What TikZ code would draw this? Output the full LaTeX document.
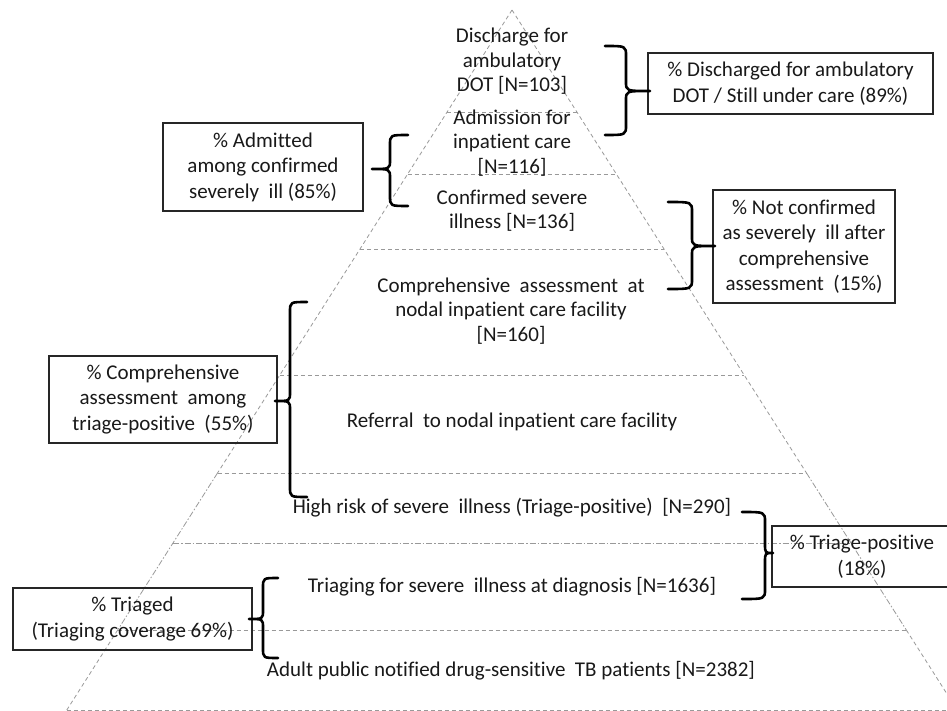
\documentclass[tikz,border=0pt]{standalone}
\usepackage{fontspec}
\setmainfont{Carlito}[Ligatures=NoCommon]
\usetikzlibrary{calc}
\newcommand{\mybrace}[6]{%
  \draw[brc] (#1,#4) .. controls (#2,#4) .. (#2,#4+10) -- (#2,#5-9)
    .. controls (#2,#5) .. (#3,#5) .. controls (#2,#5) .. (#2,#5+9)
    -- (#2,#6-10) .. controls (#2,#6) .. (#1,#6);}
\begin{document}
\begin{tikzpicture}[x=1pt,y=-1pt,
  lvl/.style={draw=black!40, line width=0.8pt, dash pattern=on 4pt off 3pt},
  lvldd/.style={draw=black!40, line width=0.8pt, dash pattern=on 6pt off 2pt on 1.5pt off 2pt},
  txt/.style={font=\fontsize{21}{24.5}\selectfont, align=center, inner sep=0pt, text=black!90},
  bx/.style={draw=black!85, line width=1.2pt, font=\fontsize{21}{25.5}\selectfont, align=center, inner sep=0pt, text=black!90},
  brc/.style={draw=black, line width=2.6pt, line join=round, line cap=round},
]
\useasboundingbox (0,0) rectangle (947,711);
\clip (0,0) rectangle (947,711);
\fill[white] (0,0) rectangle (947,711);
% pyramid
\coordinate (apex) at (512,10);
\coordinate (bl) at (66.8,710);
\coordinate (br) at (957.2,710);
\draw[lvl] (apex) -- ($(apex)!0.6614!(bl)$);
\draw[lvl] (apex) -- ($(apex)!0.6614!(br)$);
\draw[lvldd] ($(apex)!0.6614!(bl)$) -- ($(apex)!0.8857!(bl)$);
\draw[lvldd] ($(apex)!0.6614!(br)$) -- ($(apex)!0.8857!(br)$);
\draw[lvl] ($(apex)!0.8857!(bl)$) -- (bl);
\draw[lvl] ($(apex)!0.8857!(br)$) -- (br);
\foreach \t in {0.1457,0.2343,0.3414,0.5214,0.6614,0.8857,1}
  \draw[lvl] ($(apex)!\t!(bl)$) -- ($(apex)!\t!(br)$);
\draw[lvldd] ($(apex)!0.7614!(bl)$) -- ($(apex)!0.7614!(br)$);
% level texts
\node[txt] (t1) at (512,61.5) {Discharge for\\ambulatory\\DOT [N=103]};
\node[txt] (t2) at (512,143) {Admission for\\inpatient care\\{}[N=116]};
\node[txt] (t3) at (512,210.5) {Confirmed severe\\illness [N=136]};
\node[txt] (t4) at (511,311) {Comprehensive\ \ assessment\ \ at\\nodal inpatient care facility\\{}[N=160]};
\node[txt] (t5) at (512,422) {Referral\ \ to nodal inpatient care facility};
\node[txt] (t6) at (512,508) {High risk of severe\ \ illness (Triage-positive)\ \ [N=290]};
\node[txt] (t7) at (512,587) {Triaging for severe\ \ illness at diagnosis [N=1636]};
\node[txt] (t8) at (511,671) {Adult public notified drug-sensitive\ \ TB patients [N=2382]};
% boxes
\node[bx, minimum width=285, minimum height=61] (bA) at (790.5,83.5) {\% Discharged for ambulatory\\DOT / Still under care (89\%)};
\node[bx, minimum width=200, minimum height=88] (bB) at (263,167) {\% Admitted\\among confirmed\\severely\ \ ill (85\%)};
\node[bx, minimum width=182, minimum height=113] (bC) at (804,246.5) {\% Not confirmed\\as severely\ \ ill after\\comprehensive\\assessment\ \ (15\%)};
\node[bx, minimum width=228, minimum height=87] (bD) at (163,399.5) {\% Comprehensive\\assessment\ \ among\\triage-positive\ \ (55\%)};
\node[bx, minimum width=180, minimum height=61] (bE) at (862,556.5) {\% Triage-positive\\(18\%)};
\node[bx, minimum width=239, minimum height=62] (bF) at (132.5,619) {\% Triaged\\(Triaging coverage 69\%)};
% braces
\mybrace{605}{626}{650}{46}{91}{135}
\mybrace{408}{390}{372}{135}{169}{206}
\mybrace{668}{692}{715}{202}{246}{289}
\mybrace{307}{290}{275}{302}{401}{497}
\mybrace{742}{765}{773}{512}{553}{599}
\mybrace{278}{263}{249}{578}{619}{658}
\end{tikzpicture}
\end{document}
